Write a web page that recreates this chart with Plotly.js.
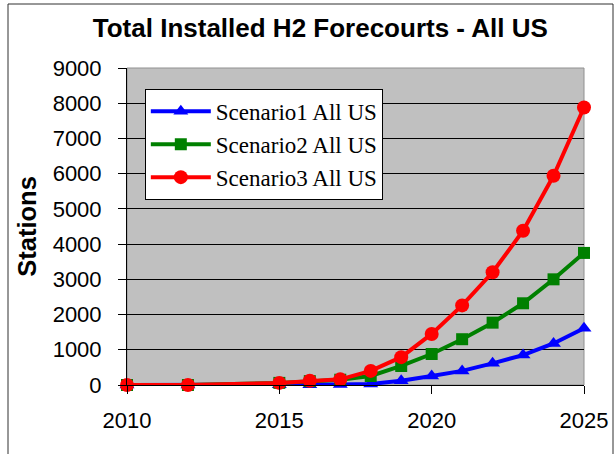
<!DOCTYPE html>
<html>
<head>
<meta charset="utf-8">
<script src="https://cdn.plot.ly/plotly-3.0.1.min.js"></script>
<style>html,body{margin:0;padding:0;background:#fff;}#chart{width:616px;height:454px;}</style>
</head>
<body>
<div id="chart"></div>
<script>
var years = [2010, 2012, 2015, 2016, 2017, 2018, 2019, 2020, 2021, 2022, 2023, 2024, 2025];
var scenario1 = [0, 0, 5, 10, 15, 30, 120, 255, 400, 615, 850, 1180, 1610];
var scenario2 = [0, 0, 60, 110, 150, 255, 540, 880, 1300, 1770, 2320, 3000, 3750];
var scenario3 = [0, 0, 60, 120, 160, 400, 790, 1450, 2260, 3200, 4380, 5940, 7880];
var seriesNames = ["Scenario1 All US", "Scenario2 All US", "Scenario3 All US"];
var xTicks = [2010, 2015, 2020, 2025];

var traces = [
  {x: years, y: scenario1, name: seriesNames[0], type: 'scatter', mode: 'lines+markers',
   line: {color: '#0000ff', width: 4}, marker: {symbol: 'triangle-up', size: 13, color: '#0000ff'}, cliponaxis: false},
  {x: years, y: scenario2, name: seriesNames[1], type: 'scatter', mode: 'lines+markers',
   line: {color: '#008000', width: 4}, marker: {symbol: 'square', size: 12, color: '#008000'}, cliponaxis: false},
  {x: years, y: scenario3, name: seriesNames[2], type: 'scatter', mode: 'lines+markers',
   line: {color: '#ff0000', width: 4}, marker: {symbol: 'circle', size: 14, color: '#ff0000'}, cliponaxis: false}
];

var layout = {
  width: 616, height: 454,
  margin: {l: 127, r: 32, t: 68, b: 69},
  paper_bgcolor: '#ffffff',
  plot_bgcolor: '#c0c0c0',
  showlegend: true,
  title: {text: '<b>Total Installed H2 Forecourts - All US</b>', font: {family: 'Arial, Liberation Sans', size: 26, color: '#000'},
          x: 0.52, xref: 'container', xanchor: 'center', y: 1 - 28/454, yref: 'container', yanchor: 'middle'},
  xaxis: {range: [2010, 2025], tickvals: xTicks, ticktext: xTicks.map(String), showgrid: false, zeroline: false,
          showline: true, linecolor: '#000', linewidth: 1, ticks: 'outside', ticklen: 8, tickcolor: '#000',
          ticklabelstandoff: 8,
          tickfont: {family: 'Arial, Liberation Sans', size: 22, color: '#000'}},
  yaxis: {range: [0, 9000], dtick: 1000, tick0: 0, showgrid: true, gridcolor: '#000', gridwidth: 1, zeroline: false,
          showline: true, linecolor: '#000', linewidth: 1, ticks: 'outside', ticklen: 8, tickcolor: '#000',
          ticklabelstandoff: 12,
          tickfont: {family: 'Arial, Liberation Sans', size: 22, color: '#000'},
          title: {text: '<b>Stations</b>', font: {family: 'Arial, Liberation Sans', size: 25.5, color: '#000'}, standoff: 8}},
  legend: {x: 0.039, y: 0.934, xanchor: 'left', yanchor: 'top', bgcolor: '#ffffff', bordercolor: '#000', borderwidth: 1,
           itemwidth: 60,
           font: {family: 'Times New Roman, Liberation Serif, serif', size: 23, color: '#000'}, tracegroupgap: 0},
  shapes: [
    {type: 'rect', xref: 'paper', yref: 'paper', x0: 0, x1: 1, y0: 0, y1: 1, line: {color: '#909090', width: 1}, layer: 'below'},
    {type: 'rect', xref: 'paper', yref: 'paper', x0: (8-127)/457, x1: (613-127)/457, y0: 1-(470-68)/317, y1: 1+(68-4)/317,
     line: {color: '#303030', width: 1}, fillcolor: 'rgba(0,0,0,0)'}
  ]
};

Plotly.newPlot('chart', traces, layout, {displayModeBar: false, staticPlot: true});
</script>
</body>
</html>
